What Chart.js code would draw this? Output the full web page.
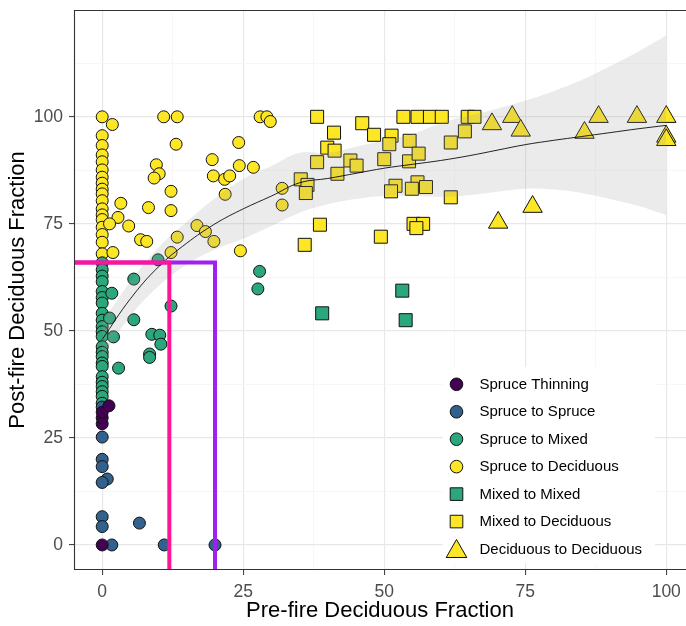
<!DOCTYPE html>
<html>
<head>
<meta charset="utf-8">
<script src="https://cdn.jsdelivr.net/npm/chart.js@4/dist/chart.umd.min.js"></script>
<style>
html,body{margin:0;padding:0;background:#fff;}
#wrap{width:686px;height:626px;position:relative;}
</style>
</head>
<body>
<div id="wrap"><canvas id="c" width="686" height="626"></canvas></div>
<script>
// ---------------- data ----------------
const seriesNames = ["Spruce Thinning","Spruce to Spruce","Spruce to Mixed","Spruce to Deciduous","Mixed to Mixed","Mixed to Deciduous","Deciduous to Deciduous"];

const thinX = [0, 0, 0, 0, 1.2];
const thinY = [0, 28.3, 29.7, 31, 32.5];

const sprSprX = [0, 0, 0, 0, 0.9, 0, 0, 0, 1.7, 6.6, 11, 20];
const sprSprY = [32.2, 25.2, 20, 18.3, 15.4, 14.6, 6.6, 4.3, 0, 5.1, 0, 0];

const sprMixX = [0,0,0,0,0,0,0,0,0,0,0,0,0,0,0,0,0,0,0,0,0,0,0,
  1.7, 2, 1.3, 5.6, 5.6, 2.9, 8.8, 10.2, 10.4, 8.4, 8.4, 12.2, 9.9, 27.9, 27.6];
const sprMixY = [65.9,64.3,62.8,61.5,59.2,57.8,56.5,54.1,52.5,51,49.8,48.7,46.3,45,44,42.5,41.7,39.3,38,37,35.8,34.7,33.1,
  58.8, 48.6, 53, 62.1, 52.6, 41.3, 49.2, 49, 46.9, 44.6, 43.8, 55.8, 66.6, 63.9, 59.8];

const sprDecX = [0,0,0,0,0,0,0,0,0,0,0,0,0,0,0,0,0,0,
  1.8,10.9,13.3,13.1,9.6,10.1,9.2,12.2,3.3,8.2,12.2,2.8,4.7,1.3,6.8,7.9,13.3,12.2,1.9,16.8,18.3,19.8,24.5,24.2,19.5,19.7,21.7,22.6,24.3,26.8,21.8,28,29.2,29.8,31.9,31.9];
const sprDecY = [100,95.6,93.3,91.1,89.5,87.6,85.9,84.5,83.1,82,80.4,78.5,77.1,76,74.2,72.5,70.7,68,
  98.2,100,100,93.6,88.8,86.7,85.7,82.6,79.8,78.8,78.1,76.5,74.5,75,71.3,70.9,71.9,68.3,68.3,74.6,73.2,70.9,68.7,94,90,86.2,85.4,86.2,88.6,88.2,81.9,100,100,98.9,83.3,79.4];

const mixMixX = [39, 53.2, 53.8];
const mixMixY = [54.1, 59.4, 52.5];

const mixDecX = [38.1,46.1,41.1,48.2,51.3,50.9,54.5,53.4,55.9,58.1,60.2,61.8,39.9,41.2,38.1,44,45.1,50,54.4,56.1,41.7,35.2,36.4,36.1,52,51.2,55.9,54.9,57.4,61.8,38.6,55.2,56.9,55.7,49.4,35.9,64.8,66,64.3];
const mixDecY = [100,98.5,96.3,95.8,95.6,93.6,94.4,100,100,100,100,94,92.8,92.1,89.4,89.8,88.6,90.1,89.6,91.4,86.7,85.4,84.1,82.2,83.9,82.6,84.7,83.2,83.6,81.2,74.8,75,75,74,72,70.1,100,100,96.6];

const decDecX = [69.1,72.7,74.2,88,94.8,100,85.5,100,100,70.2,76.3];
const decDecY = [98.3,100,96.8,100,100,100,96.3,95.4,94.6,75.3,79];

// smoothing curve and its confidence band
const smoothX = [0,5,10,15,20,25,30,35,40,45,50,55,60,65,70,75,80,85,90,95,100];
const smoothY = [48,57.5,65,70.5,75,78.5,81.5,84.6,85.6,86.8,88,88.9,89.8,90.9,92.2,93.5,94.5,95.4,96.3,97.2,98];
const bandLow = [44,53.5,60.5,65.5,69,71.5,74.5,77.6,79.6,80.8,81.5,81.5,81.3,81.7,82.5,83.2,83,82.2,80.8,79.2,77];
const bandHigh = [52,61.5,69.5,75.5,81,85.5,88.5,91.6,91.6,93,94.5,96,98.5,100.3,101.9,103.8,106,108.6,111.8,115.2,119];

// threshold reference lines
const pinkX = 11.9;
const purpleX = 20;
const cutY = 66;

// axis ticks
const majorTicks = [0, 25, 50, 75, 100];
const xMin = -5, xMax = 103.5, yMin = -5.85, yMax = 124.95;

// ---------------- build ----------------
const pts = (xs, ys) => xs.map((x, i) => ({x: x, y: ys[i]}));

const colPurple = '#440154', colBlue = '#33618E', colGreen = '#2AA87B', colYellow = '#FDE725';

function pointSet(name, xs, ys, color, style, r) {
  return {
    label: name, data: pts(xs, ys), isSeries: true,
    backgroundColor: color, borderColor: '#111', borderWidth: 1,
    pointStyle: style, pointRadius: r, pointHoverRadius: r,
    showLine: false, order: 50
  };
}

const datasets = [
  pointSet(seriesNames[0], thinX, thinY, colPurple, 'circle', 6),
  pointSet(seriesNames[1], sprSprX, sprSprY, colBlue, 'circle', 6),
  pointSet(seriesNames[2], sprMixX, sprMixY, colGreen, 'circle', 6),
  pointSet(seriesNames[3], sprDecX, sprDecY, colYellow, 'circle', 6),
  pointSet(seriesNames[4], mixMixX, mixMixY, colGreen, 'rect', 9.2),
  pointSet(seriesNames[5], mixDecX, mixDecY, colYellow, 'rect', 9.2),
  pointSet(seriesNames[6], decDecX, decDecY, colYellow, 'triangle', 11.2),
  { label: 'bandLow', data: pts(smoothX, bandLow), showLine: true, pointRadius: 0, borderWidth: 0,
    borderColor: 'rgba(0,0,0,0)', fill: false, order: 40, tension: 0.4 },
  { label: 'bandHigh', data: pts(smoothX, bandHigh), showLine: true, pointRadius: 0, borderWidth: 0,
    borderColor: 'rgba(0,0,0,0)', fill: '-1', backgroundColor: 'rgba(153,153,153,0.2)', order: 39, tension: 0.4 },
  { label: 'smooth', data: pts(smoothX, smoothY), showLine: true, pointRadius: 0, borderWidth: 1,
    borderColor: 'rgba(0,0,0,0.85)', fill: false, order: 30, tension: 0.4 },
  { label: 'purple', data: [{x: xMin, y: cutY}, {x: purpleX, y: cutY}, {x: purpleX, y: yMin}],
    showLine: true, pointRadius: 0, borderWidth: 4, borderColor: '#A020F0', fill: false, order: 20,
    borderJoinStyle: 'miter' },
  { label: 'pink', data: [{x: xMin, y: cutY}, {x: pinkX, y: cutY}, {x: pinkX, y: yMin}],
    showLine: true, pointRadius: 0, borderWidth: 4, borderColor: '#FF1493', fill: false, order: 10,
    borderJoinStyle: 'miter' }
];

const FONT = "'Liberation Sans', Arial, sans-serif";
const isMajor = v => majorTicks.indexOf(v) >= 0;

const gridOpts = {
  color: c => (c.tick && isMajor(c.tick.value)) ? '#E8E8E8' : '#F3F3F3',
  lineWidth: c => (c.tick && isMajor(c.tick.value)) ? 1.2 : 0.7,
  tickColor: c => (c.tick && isMajor(c.tick.value)) ? '#333333' : 'rgba(0,0,0,0)',
  tickLength: 5, tickWidth: 1, drawTicks: true
};

const legendPlugin = {
  id: 'ggLegend',
  afterDatasetsDraw(chart) {
    const ctx = chart.ctx;
    const items = chart.data.datasets.filter(d => d.isSeries);
    ctx.save();
    ctx.fillStyle = '#fff';
    ctx.fillRect(443, 367, 212, 196);
    items.forEach((d, i) => {
      const cy = 384.3 + i * 27.45, cx = 456.5;
      ctx.fillStyle = d.backgroundColor; ctx.strokeStyle = '#111'; ctx.lineWidth = 1;
      ctx.beginPath();
      if (d.pointStyle === 'circle') {
        ctx.arc(cx, cy, 6.3, 0, Math.PI * 2);
      } else if (d.pointStyle === 'rect') {
        ctx.rect(cx - 6.3, cy - 6.3, 12.6, 12.6);
      } else {
        ctx.moveTo(cx, cy - 9.5); ctx.lineTo(cx + 10.3, cy + 8.5); ctx.lineTo(cx - 10.3, cy + 8.5); ctx.closePath();
      }
      ctx.fill(); ctx.stroke();
      ctx.fillStyle = '#000';
      ctx.font = '15px ' + FONT;
      ctx.textAlign = 'left'; ctx.textBaseline = 'middle';
      ctx.fillText(d.label, 479.5, cy + 0.5);
    });
    ctx.restore();
  },
  afterDraw(chart) {
    const a = chart.chartArea, ctx = chart.ctx;
    ctx.save();
    ctx.strokeStyle = '#333333'; ctx.lineWidth = 1.1;
    ctx.beginPath();
    ctx.moveTo(a.right + 2, a.top + 0.5); ctx.lineTo(a.left + 0.5, a.top + 0.5);
    ctx.lineTo(a.left + 0.5, a.bottom - 0.5); ctx.lineTo(a.right + 2, a.bottom - 0.5);
    ctx.stroke();
    ctx.restore();
  }
};

new Chart(document.getElementById('c'), {
  type: 'scatter',
  data: { datasets: datasets },
  plugins: [legendPlugin],
  options: {
    responsive: false, animation: false, events: [],
    devicePixelRatio: 1,
    layout: { autoPadding: false, padding: { top: 10, right: 0, left: 0, bottom: 0 } },
    plugins: { legend: { display: false }, tooltip: { enabled: false } },
    scales: {
      x: {
        type: 'linear', min: xMin, max: xMax,
        afterFit: s => { s.height = 56; s.paddingLeft = 0; s.paddingRight = 0; },
        grid: gridOpts, border: { display: false },
        ticks: {
          stepSize: 12.5, includeBounds: false, autoSkip: false, maxRotation: 0,
          padding: 7, color: '#4D4D4D', font: { family: FONT, size: 17.5 },
          callback: v => isMajor(v) ? String(v) : ''
        },
        title: { display: true, text: 'Pre-fire Deciduous Fraction', color: '#000',
          font: { family: FONT, size: 22 }, padding: { top: 0, bottom: 2 } }
      },
      y: {
        type: 'linear', min: yMin, max: yMax,
        afterFit: s => { s.width = 74; s.paddingTop = 0; s.paddingBottom = 0; },
        grid: gridOpts, border: { display: false },
        ticks: {
          stepSize: 12.5, includeBounds: false, autoSkip: false,
          padding: 6, color: '#4D4D4D', font: { family: FONT, size: 17.5 },
          callback: v => isMajor(v) ? String(v) : ''
        },
        title: { display: true, text: 'Post-fire Deciduous Fraction', color: '#000',
          font: { family: FONT, size: 22 }, padding: { top: 5, bottom: 0 } }
      }
    }
  }
});
</script>
</body>
</html>
